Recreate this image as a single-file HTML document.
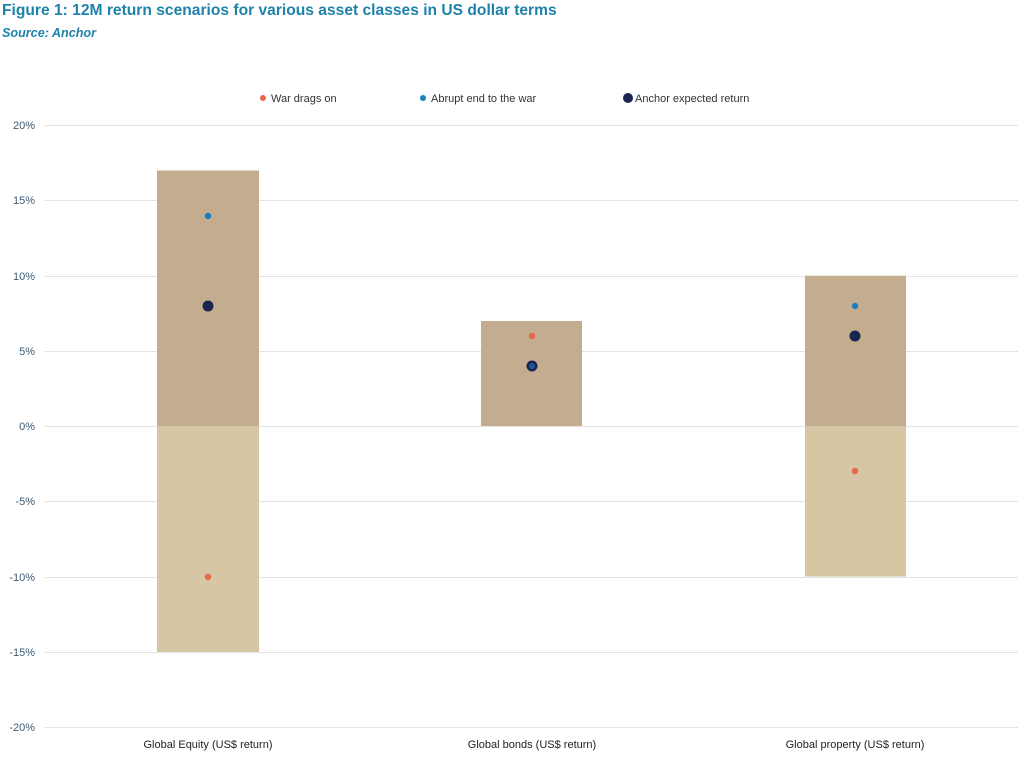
<!DOCTYPE html>
<html><head><meta charset="utf-8"><style>
body{margin:0;background:#fff;width:1024px;height:754px;overflow:hidden;font-family:"Liberation Sans",sans-serif}
</style></head><body>
<svg width="1024" height="754" xmlns="http://www.w3.org/2000/svg" font-family="Liberation Sans, sans-serif">
<text x="2" y="15" font-size="15.6" font-weight="bold" fill="#1f82ab">Figure 1: 12M return scenarios for various asset classes in US dollar terms</text>
<text x="2" y="37" font-size="12.6" font-style="italic" font-weight="bold" fill="#1f82ab">Source: Anchor</text>
<g stroke="#e3e3e3" stroke-width="1">
<line x1="45" x2="1018" y1="125.5" y2="125.5"/><line x1="45" x2="1018" y1="200.5" y2="200.5"/>
<line x1="45" x2="1018" y1="276.5" y2="276.5"/><line x1="45" x2="1018" y1="351.5" y2="351.5"/>
<line x1="45" x2="1018" y1="426.5" y2="426.5"/><line x1="45" x2="1018" y1="501.5" y2="501.5"/>
<line x1="45" x2="1018" y1="577.5" y2="577.5"/><line x1="45" x2="1018" y1="652.5" y2="652.5"/>
<line x1="45" x2="1018" y1="727.5" y2="727.5"/>
</g>
<g font-size="11" fill="#3d5a74" text-anchor="end">
<text x="35" y="129">20%</text><text x="35" y="204">15%</text><text x="35" y="280">10%</text>
<text x="35" y="355">5%</text><text x="35" y="430">0%</text><text x="35" y="505">-5%</text>
<text x="35" y="581">-10%</text><text x="35" y="656">-15%</text><text x="35" y="731">-20%</text>
</g>
<rect x="157" y="170.5" width="102" height="255.5" fill="#c4ad8f"/>
<rect x="157" y="426" width="102" height="226" fill="#d6c6a3"/>
<rect x="481" y="321" width="101" height="105" fill="#c4ad8f"/>
<rect x="805" y="275.7" width="101" height="150.3" fill="#c4ad8f"/>
<rect x="805" y="426" width="101" height="150.5" fill="#d6c6a3"/>
<g fill="#e8694a"><circle cx="208" cy="577" r="3.2"/><circle cx="532" cy="336" r="3.2"/><circle cx="855" cy="471" r="3.2"/></g>
<g fill="#1b7fbf"><circle cx="208" cy="216" r="3.2"/><circle cx="855" cy="306" r="3.2"/></g>
<g fill="#1a2550"><circle cx="208" cy="306" r="5.5"/><circle cx="532" cy="366" r="5.5"/><circle cx="855" cy="336" r="5.5"/></g>
<circle cx="532" cy="366" r="3" fill="#1b7fbf" opacity="0.6"/>
<circle cx="263" cy="98" r="3" fill="#e8694a"/>
<text x="271" y="102" font-size="11" fill="#333">War drags on</text>
<circle cx="423" cy="98" r="3" fill="#1b7fbf"/>
<text x="431" y="102" font-size="11" fill="#333">Abrupt end to the war</text>
<circle cx="628" cy="98" r="5" fill="#1a2550"/>
<text x="635" y="102" font-size="11" fill="#333">Anchor expected return</text>
<g font-size="11" fill="#222" text-anchor="middle">
<text x="208" y="748">Global Equity (US$ return)</text>
<text x="532" y="748">Global bonds (US$ return)</text>
<text x="855" y="748">Global property (US$ return)</text>
</g>
</svg>
</body></html>
